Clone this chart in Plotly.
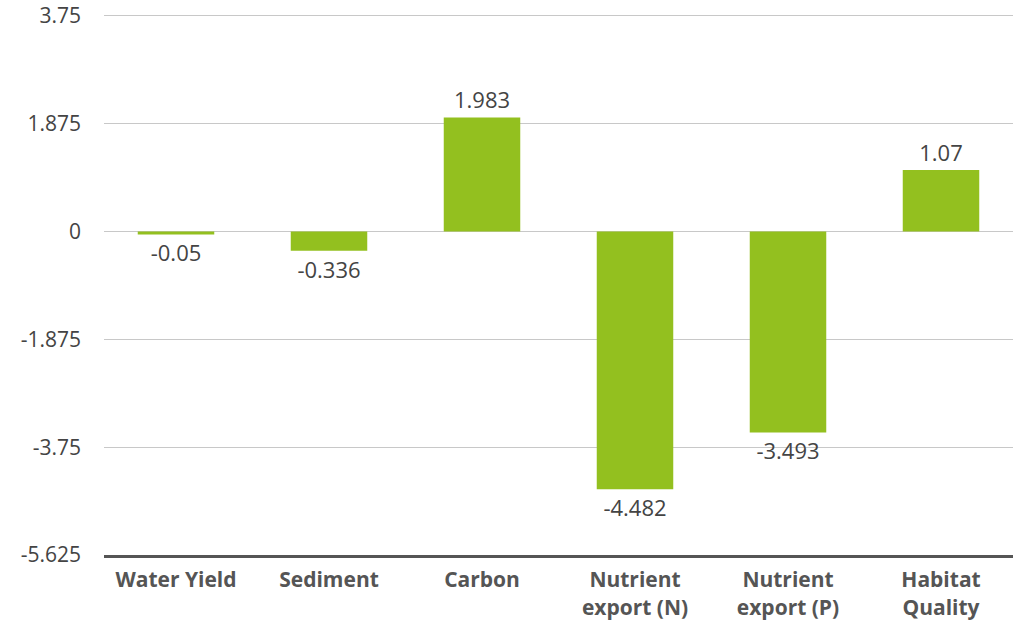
import plotly.graph_objects as go

# Change in ecosystem service indicators
categories = ["Water Yield", "Sediment", "Carbon",
              "Nutrient<br>export (N)", "Nutrient<br>export (P)", "Habitat<br>Quality"]
values = [-0.05, -0.336, 1.983, -4.482, -3.493, 1.07]
y_ticks = [-5.625, -3.75, -1.875, 0, 1.875, 3.75]
y_tick_labels = ["-5.625", "-3.75", "-1.875", "0", "1.875", "3.75"]

BAR_COLOR = "#93C01F"
FONT = "'Open Sans', Lato, sans-serif"

fig = go.Figure(
    go.Bar(
        x=list(range(len(categories))),
        y=values,
        width=0.5,
        marker=dict(color=BAR_COLOR, line=dict(width=0)),
        text=[f"{v:g}" for v in values],
        textposition="outside",
        textfont=dict(family=FONT, size=22, color="#444444"),
        cliponaxis=False,
    )
)

fig.update_layout(
    width=1013,
    height=621,
    margin=dict(l=104, r=0, t=13, b=63),
    plot_bgcolor="white",
    paper_bgcolor="white",
    showlegend=False,
    font=dict(family=FONT, color="#444444"),
    xaxis=dict(
        range=[-0.4706, 5.4706],
        tickmode="array",
        tickvals=list(range(len(categories))),
        ticktext=[f"<b>{c}</b>" for c in categories],
        tickfont=dict(family=FONT, size=21, color="#555555"),
        showgrid=False,
        zeroline=False,
        showline=True,
        linecolor="#555555",
        linewidth=3,
        ticks="",
        ticklabelstandoff=4,
    ),
    yaxis=dict(
        range=[-5.625, 3.80],
        tickmode="array",
        tickvals=y_ticks,
        ticktext=y_tick_labels,
        tickfont=dict(family=FONT, size=21, color="#444444"),
        showgrid=True,
        gridcolor="#C8C8C8",
        gridwidth=1,
        zeroline=True,
        zerolinecolor="#C8C8C8",
        zerolinewidth=1,
        showline=False,
        ticks="",
        ticklabelstandoff=22,
    ),
)

fig.write_html("out.html")
